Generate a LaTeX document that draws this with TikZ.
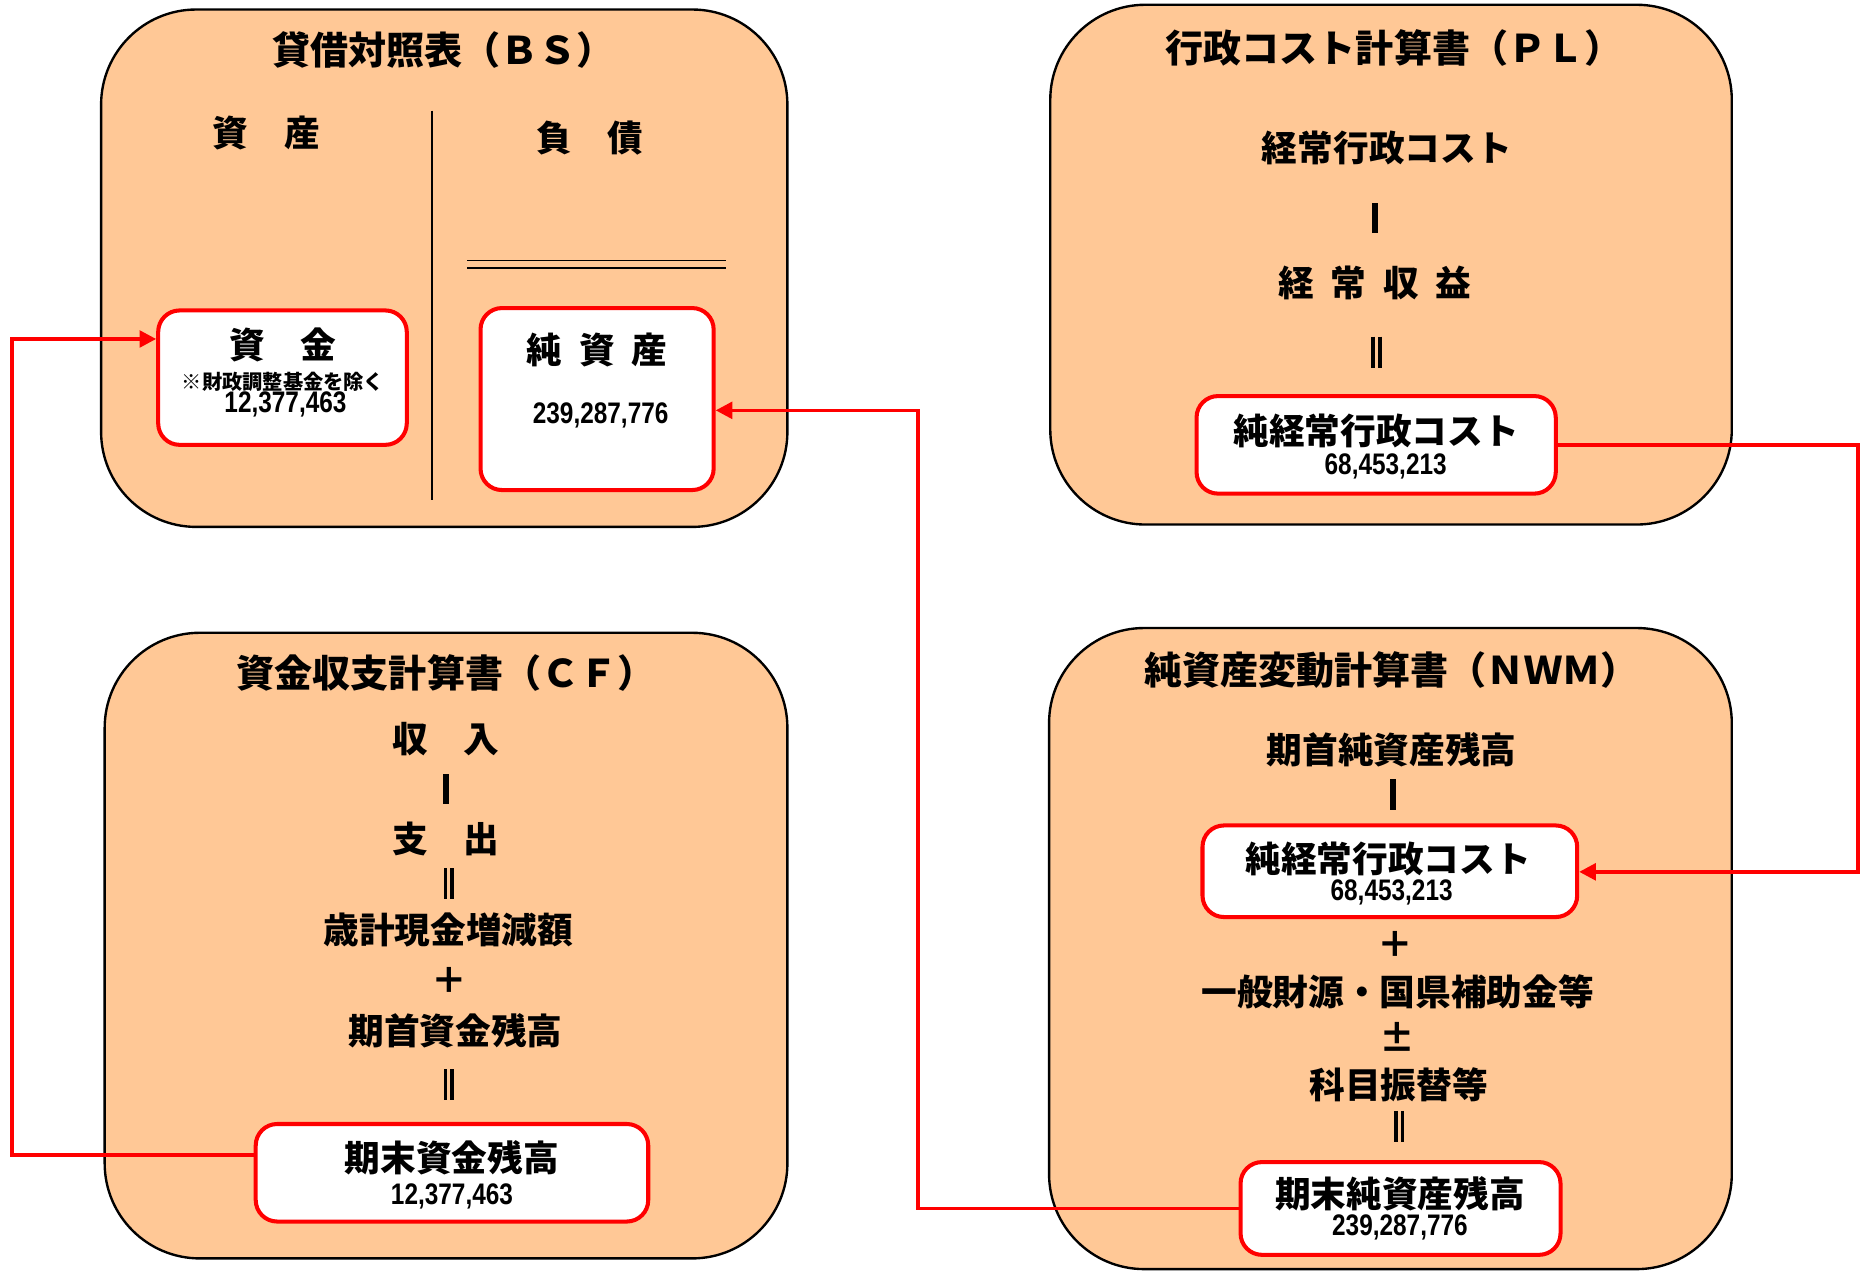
\documentclass[tikz,border=0pt]{standalone}
\usepackage{fontspec}
\setmainfont{Noto Sans CJK JP}[BoldFont={Noto Sans CJK JP Black}]
\newfontfamily\numf{Liberation Sans}[FakeStretch=0.82]
\usetikzlibrary{arrows.meta,fit}
\definecolor{peach}{HTML}{FFC896}
\definecolor{lred}{HTML}{FF0000}
\tikzset{
  panel/.style={draw=black, line width=1pt, fill=peach, rounded corners=40pt, inner sep=0pt},
  rbox/.style={draw=lred, line width=1.7pt, fill=white, rounded corners=9pt, inner sep=0pt},
  ttl/.style={font=\fontsize{16pt}{19pt}\selectfont\bfseries, inner sep=0pt},
  txt/.style={font=\fontsize{15pt}{18pt}\selectfont\bfseries, inner sep=0pt},
  note/.style={font=\fontsize{8.5pt}{10pt}\selectfont\bfseries, inner sep=0pt},
  num/.style={font=\numf\fontsize{12.5pt}{14pt}\selectfont\bfseries, inner sep=0pt},
  bar/.style={line width=2.6pt},
  eqbar/.style={line width=1.5pt},
  conn/.style={draw=lred, line width=1.5pt},
  arr/.style={-{Triangle[length=7pt,width=7pt]}}
}
\begin{document}
\begin{tikzpicture}[x=0.5pt,y=-0.5pt]
\useasboundingbox (0,0) rectangle (1568,1070);
% panels
\node[panel, fit={(85,8) (662,443)}] (bs) {};
\node[panel, fit={(883,4) (1456,441)}] (pl) {};
\node[panel, fit={(88,532) (662,1058)}] (cf) {};
\node[panel, fit={(882,528) (1456,1067)}] (nwm) {};

% BS
\node[ttl] (bstitle) at (373,42) {貸借対照表（ＢＳ）};
\node[txt] (asset) at (224,112) {資　産};
\node[txt] (liab) at (496,116) {負　債};
\draw[line width=1pt] (363,93) -- (363,420);
\draw[line width=0.8pt] (393,219) -- (610,219) (393,225) -- (610,225);
\node[rbox, fit={(133,261) (342,374)}] (fund) {};
\node[txt] (fundt) at (238,290) {資　金};
\node[note] (fundn) at (238,321) {※財政調整基金を除く};
\node[num] (fundv) at (240,340) {12,377,463};
\node[rbox, fit={(404,259) (600,412)}] (netasset) {};
\node[txt] (netassett) at (502,294) {純\hspace{7pt}資\hspace{7pt}産};
\node[num] (netassetv) at (505,349) {239,287,776};

% PL
\node[ttl] (pltitle) at (1172,40) {行政コスト計算書（ＰＬ）};
\node[txt] (plcost0) at (1166,124) {経常行政コスト};
\draw[bar] (1156,171) -- (1156,196);
\node[txt] (plrev) at (1156,238) {経\hspace{7pt}常\hspace{7pt}収\hspace{7pt}益};
\draw[eqbar] (1154.5,283) -- (1154.5,309) (1160,283) -- (1160,309);
\node[rbox, fit={(1006,333) (1308,415)}] (plcost) {};
\node[txt] (plcostt) at (1157,362) {純経常行政コスト};
\node[num] (plcostv) at (1165,392) {68,453,213};

% CF
\node[ttl] (cftitle) at (375,566) {資金収支計算書（ＣＦ）};
\node[txt] (inc) at (375,621) {収　入};
\draw[bar] (375,651) -- (375,676);
\node[txt] (exp) at (375,705) {支　出};
\draw[eqbar] (374.5,730) -- (374.5,756) (380,730) -- (380,756);
\node[txt] (chg) at (377,782) {歳計現金増減額};
\node[txt] (plus1) at (378,824) {＋};
\node[txt] (beg) at (383,867) {期首資金残高};
\draw[eqbar] (374.5,899) -- (374.5,925) (380,899) -- (380,925);
\node[rbox, fit={(215,945) (545,1027)}] (cfend) {};
\node[txt] (cfendt) at (380,973) {期末資金残高};
\node[num] (cfendv) at (380,1006) {12,377,463};

% NWM
\node[ttl] (nwtitle) at (1170,563) {純資産変動計算書（ＮＷＭ）};
\node[txt] (nwbeg) at (1170,630) {期首純資産残高};
\draw[bar] (1171,655) -- (1171,681);
\node[rbox, fit={(1011,694) (1326,771)}] (nwcost) {};
\node[txt] (nwcostt) at (1167,722) {純経常行政コスト};
\node[num] (nwcostv) at (1170,750) {68,453,213};
\node[txt] (plus2) at (1173,794) {＋};
\node[txt] (gen) at (1175,834) {一般財源・国県補助金等};
\node[txt] (pm) at (1175,872) {±};
\node[txt] (trans) at (1176,912) {科目振替等};
\draw[eqbar] (1173.5,934) -- (1173.5,960) (1179,934) -- (1179,960);
\node[rbox, fit={(1043,977) (1312,1055)}] (nwend) {};
\node[txt] (nwendt) at (1177,1004) {期末純資産残高};
\node[num] (nwendv) at (1177,1032) {239,287,776};

% connectors
\coordinate (k1) at (10,285);
\draw[conn, arr] (cfend.west |- {(0,971)}) -| (k1) -- (fund.west |- k1);
\coordinate (k2) at (772,345);
\draw[conn, arr] (nwend.west) -| (k2) -- (netasset.east |- k2);
\coordinate (k3) at (1562,733);
\draw[conn, arr] (plcost.east) -| (k3) -- (nwcost.east |- k3);
\end{tikzpicture}
\end{document}
